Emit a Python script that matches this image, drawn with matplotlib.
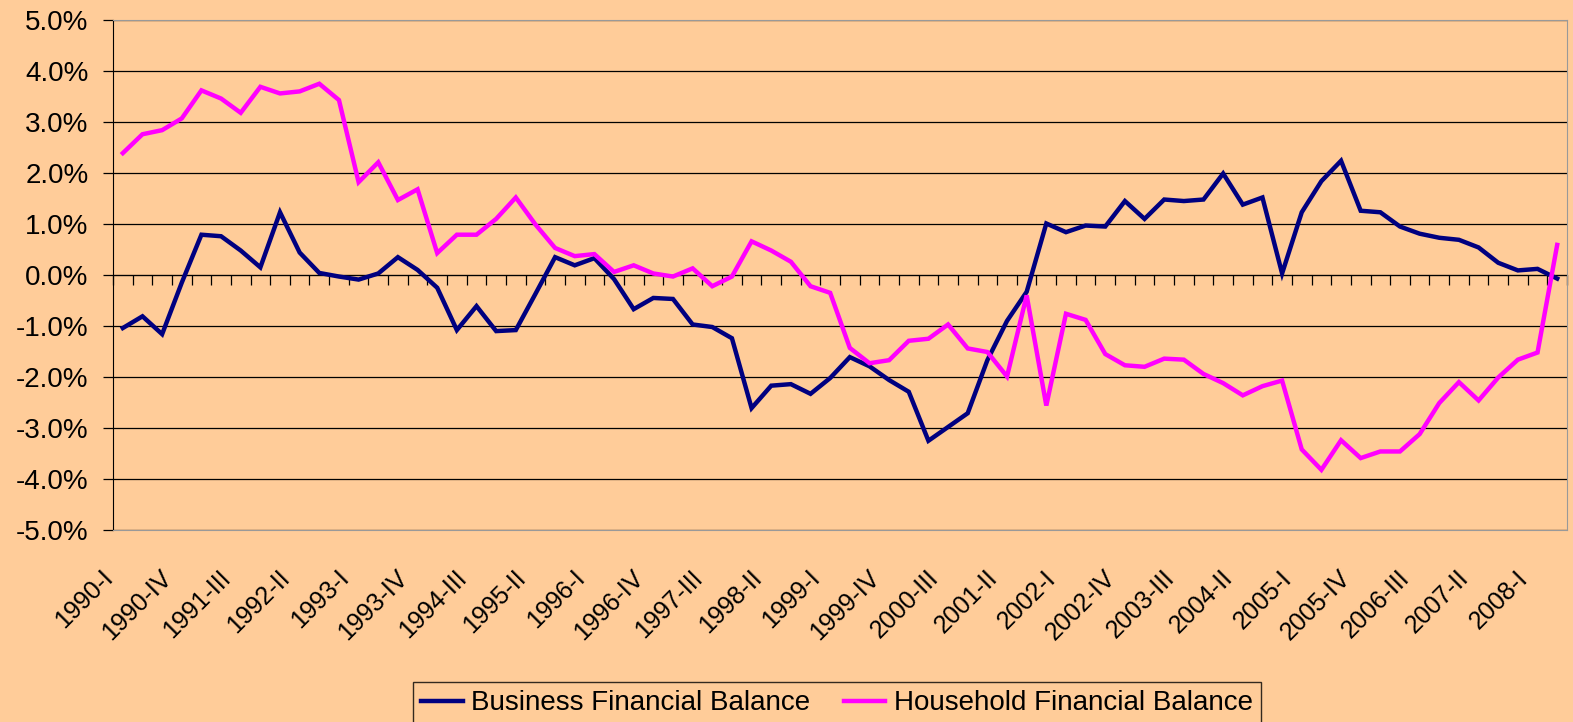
import numpy as np
import matplotlib
matplotlib.use("Agg")
import matplotlib.pyplot as plt
import matplotlib.transforms as mtransforms
from matplotlib.ticker import FuncFormatter

# quarterly categories 1990-I .. 2008-II
roman = ["I", "II", "III", "IV"]
quarters = [f"{y}-{q}" for y in range(1990, 2009) for q in roman][:74]

# financial balances, % of GDP
business = [-1.04, -0.81, -1.16, -0.15, 0.79, 0.76, 0.48, 0.15, 1.23, 0.44,
            0.04, -0.03, -0.09, 0.03, 0.35, 0.10, -0.25, -1.08, -0.61, -1.10,
            -1.08, -0.37, 0.35, 0.19, 0.33, -0.08, -0.67, -0.45, -0.47, -0.97,
            -1.02, -1.24, -2.61, -2.17, -2.14, -2.33, -2.02, -1.61, -1.79, -2.06,
            -2.29, -3.25, -2.98, -2.71, -1.67, -0.90, -0.33, 1.01, 0.84, 0.97,
            0.95, 1.45, 1.10, 1.48, 1.45, 1.48, 1.99, 1.38, 1.52, 0.03,
            1.23, 1.84, 2.24, 1.26, 1.23, 0.95, 0.81, 0.73, 0.69, 0.54,
            0.24, 0.09, 0.12, -0.07]
household = [2.39, 2.76, 2.84, 3.07, 3.62, 3.46, 3.18, 3.69, 3.56, 3.60,
             3.75, 3.43, 1.82, 2.21, 1.47, 1.68, 0.43, 0.79, 0.79, 1.10,
             1.52, 0.99, 0.53, 0.37, 0.41, 0.06, 0.19, 0.03, -0.03, 0.13,
             -0.22, -0.03, 0.66, 0.48, 0.26, -0.22, -0.35, -1.43, -1.73, -1.67,
             -1.29, -1.25, -0.97, -1.44, -1.51, -1.99, -0.40, -2.56, -0.76, -0.88,
             -1.55, -1.77, -1.80, -1.64, -1.66, -1.94, -2.12, -2.36, -2.18, -2.07,
             -3.42, -3.82, -3.24, -3.59, -3.46, -3.46, -3.12, -2.51, -2.10, -2.46,
             -2.01, -1.66, -1.52, 0.59]

bg = "#FFCC99"
plt.rcParams["font.family"] = ["Liberation Sans", "DejaVu Sans"]
plt.rcParams["font.size"] = 20

fig = plt.figure(figsize=(15.73, 7.22), dpi=100, facecolor=bg)
ax = fig.add_axes([113 / 1573, 1 - 530 / 722, 1454 / 1573, 510 / 722])
ax.set_facecolor(bg)

x = np.arange(len(quarters))
ax.plot(x, business, color="#000080", lw=3.2, label="Business Financial Balance",
        solid_joinstyle="miter", zorder=3)
ax.plot(x, household, color="#FF00FF", lw=3.2, label="Household Financial Balance",
        solid_joinstyle="miter", zorder=3)

ax.set_xlim(-0.5, len(quarters) - 0.5)
ax.set_ylim(-5, 5)
ax.set_yticks(np.arange(-5, 5.1, 1))
ax.yaxis.set_major_formatter(FuncFormatter(lambda v, p: f"{v:.1f}%".replace("\u2212", "-")))
ax.grid(axis="y", color="black", lw=0.9)
ax.set_axisbelow(True)
ax.tick_params(axis="y", length=7, width=0.9, color="black", pad=10.5, labelsize=20)

ax.set_xticks(x[::3])
ax.set_xticklabels(quarters[::3], rotation=45, ha="right", va="top",
                   rotation_mode="anchor", fontsize=18)
ax.tick_params(axis="x", length=0, pad=10)
shift = mtransforms.ScaledTranslation(-22 / 100, -22 / 100, fig.dpi_scale_trans)
for lab in ax.get_xticklabels():
    lab.set_transform(lab.get_transform() + shift)

for s in ["top", "right", "bottom"]:
    ax.spines[s].set_color("#999999")
ax.spines["left"].set_color("black")

# category axis crossing at zero
sec = ax.secondary_xaxis(0.5)
sec.set_xticks(np.arange(-0.5, len(quarters), 1))
sec.set_xticklabels([])
sec.tick_params(axis="x", direction="in", length=7.5, width=0.9, color="black")
sec.spines["bottom"].set_color("black")
sec.spines["bottom"].set_linewidth(0.9)

leg = fig.legend(loc="upper center", bbox_to_anchor=(837 / 1573, 1 - 682 / 722),
                 borderaxespad=0, ncol=2, frameon=True, fancybox=False,
                 handlelength=1.5, handletextpad=0.3, columnspacing=1.2, borderpad=0.3)
leg.get_frame().set_facecolor(bg)
leg.get_frame().set_edgecolor("black")
leg.get_frame().set_linewidth(1)

fig.savefig("out.png", dpi=100, facecolor=bg)
